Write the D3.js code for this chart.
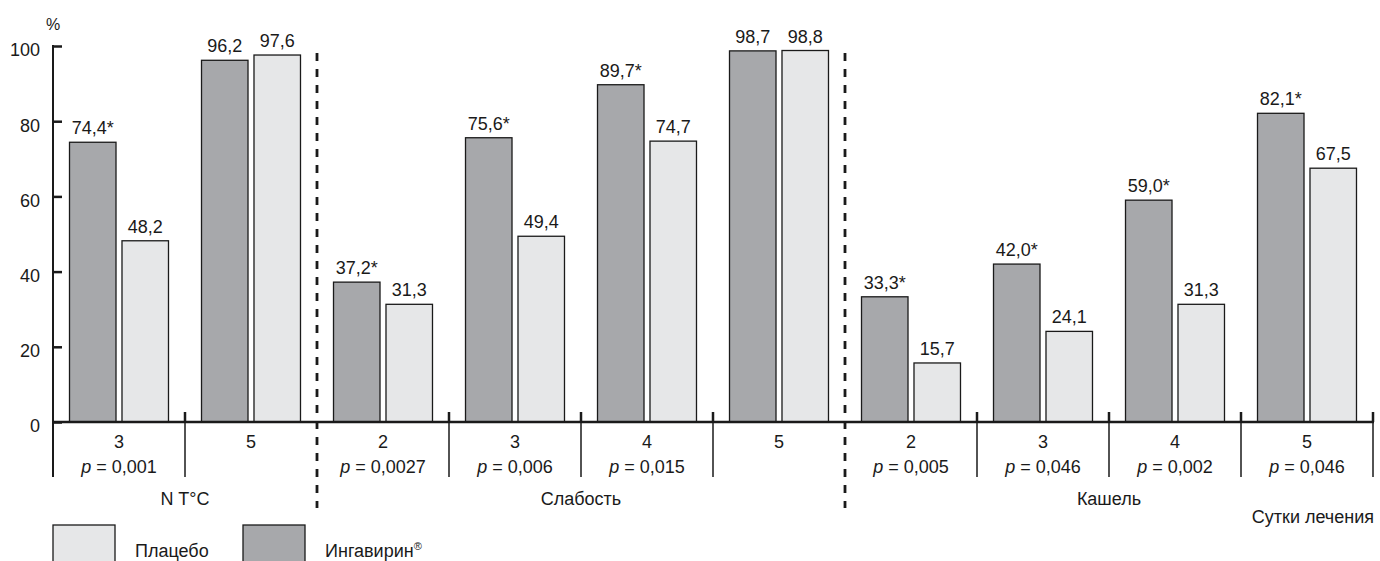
<!DOCTYPE html>
<html><head><meta charset="utf-8">
<script src="https://cdn.jsdelivr.net/npm/d3@7"></script>
<style>body{margin:0;background:#fff}svg{display:block;font-family:"Liberation Sans",Arial,sans-serif}</style>
</head><body><svg id="c" width="1380" height="561"></svg>
<script>
const days = ["3","5","2","3","4","5","2","3","4","5"];
const pvals = ["0,001","","0,0027","0,006","0,015","","0,005","0,046","0,002","0,046"];
const ingavirin = [74.4,96.2,37.2,75.6,89.7,98.7,33.3,42.0,59.0,82.1];
const placebo = [48.2,97.6,31.3,49.4,74.7,98.8,15.7,24.1,31.3,67.5];
const ingLabels = ["74,4*","96,2","37,2*","75,6*","89,7*","98,7","33,3*","42,0*","59,0*","82,1*"];
const plaLabels = ["48,2","97,6","31,3","49,4","74,7","98,8","15,7","24,1","31,3","67,5"];
const symptoms = [{name:"N T°C",from:0,to:2},{name:"Слабость",from:2,to:6},{name:"Кашель",from:6,to:10}];
const yTicks = [0,20,40,60,80,100];
const seriesNames = ["Плацебо","Ингавирин®"];

const FS = 18;
const svg = d3.select("#c");
const L = 53, R = 1373, BASE = 422, TOPY = 46;
const x0 = d3.scaleBand().domain(d3.range(days.length)).range([L,R]).padding(0);
const x1 = d3.scaleBand().domain(["ing","pla"]).range([0,x0.bandwidth()]).paddingInner(0.095).paddingOuter(0.305);
const y = d3.scaleLinear().domain([0,100]).range([BASE,TOPY]);
const dark = "#a7a8ab", light = "#e6e7e8", ink = "#1a1a1a";

// bars
const g = svg.append("g");
const rows = days.map((d,i)=>({i, vals:[{k:"ing",v:ingavirin[i],l:ingLabels[i]},{k:"pla",v:placebo[i],l:plaLabels[i]}]}));
const grp = g.selectAll("g.grp").data(rows).join("g").attr("transform",d=>`translate(${x0(d.i)},0)`);
grp.selectAll("rect").data(d=>d.vals).join("rect")
  .attr("x",d=>x1(d.k)+0.5).attr("y",d=>y(d.v)).attr("width",x1.bandwidth()-1).attr("height",d=>BASE-y(d.v))
  .attr("fill",d=>d.k==="ing"?dark:light).attr("stroke",ink).attr("stroke-width",1.3);
grp.selectAll("text").data(d=>d.vals).join("text")
  .attr("x",d=>x1(d.k)+x1.bandwidth()/2).attr("y",d=>y(d.v)-8)
  .attr("text-anchor","middle").attr("font-size",FS).attr("fill",ink).text(d=>d.l);

// y axis
const yAxis = d3.axisLeft(y).tickValues(yTicks).tickSize(-9).tickPadding(13);
const ya = svg.append("g").attr("transform",`translate(${L},0)`).call(yAxis);
ya.select(".domain").remove();
ya.selectAll("line").attr("stroke",ink).attr("stroke-width",2.5);
ya.selectAll("text").attr("font-size",FS).attr("fill",ink).attr("font-family","Liberation Sans, Arial, sans-serif").attr("dy","0.55em");
svg.append("line").attr("x1",L).attr("x2",L).attr("y1",TOPY-1).attr("y2",477).attr("stroke",ink).attr("stroke-width",2);
svg.append("text").attr("x",L).attr("y",30).attr("text-anchor","middle").attr("font-size",16).attr("fill",ink).text("%");

// x baseline
svg.append("line").attr("x1",L).attr("x2",R+1).attr("y1",BASE).attr("y2",BASE).attr("stroke",ink).attr("stroke-width",2.5);

// boundaries
const bounds = d3.range(1,days.length+1).map(i=> i<days.length ? x0(i) : R);
const dashedIdx = symptoms.slice(0,-1).map(s=>s.to);
bounds.forEach((bx,k)=>{
  const idx = k+1;
  if (dashedIdx.includes(idx)) {
    svg.append("line").attr("x1",bx).attr("x2",bx).attr("y1",53).attr("y2",508)
      .attr("stroke",ink).attr("stroke-width",2.8).attr("stroke-dasharray","8,8");
  } else {
    svg.append("line").attr("x1",bx).attr("x2",bx).attr("y1",412).attr("y2",477).attr("stroke",ink).attr("stroke-width",1.5);
    svg.append("line").attr("x1",bx).attr("x2",bx).attr("y1",412).attr("y2",BASE).attr("stroke",ink).attr("stroke-width",2.5);
  }
});

// category labels
const cl = svg.append("g");
days.forEach((d,i)=>{
  const cx = x0(i)+x0.bandwidth()/2;
  cl.append("text").attr("x",cx).attr("y",448).attr("text-anchor","middle").attr("font-size",FS).attr("fill",ink).text(d);
  if (pvals[i]) {
    const t = cl.append("text").attr("x",cx).attr("y",473).attr("text-anchor","middle").attr("font-size",FS).attr("fill",ink);
    t.append("tspan").attr("font-style","italic").text("p");
    t.append("tspan").text(" = "+pvals[i]);
  }
});
symptoms.forEach(s=>{
  const a = x0(s.from), b = s.to<days.length ? x0(s.to) : R;
  svg.append("text").attr("x",(a+b)/2).attr("y",505).attr("text-anchor","middle").attr("font-size",FS).attr("fill",ink).text(s.name);
});
svg.append("text").attr("x",R+1).attr("y",523).attr("text-anchor","end").attr("font-size",FS).attr("fill",ink).text("Сутки лечения");

// legend
const legend = [{name:seriesNames[0],c:light,x:53},{name:seriesNames[1],c:dark,x:243}];
legend.forEach(l=>{
  svg.append("rect").attr("x",l.x).attr("y",525).attr("width",62).attr("height",50).attr("fill",l.c).attr("stroke",ink).attr("stroke-width",1.3);
  const t = svg.append("text").attr("x",l.x+82).attr("y",557).attr("font-size",FS).attr("fill",ink);
  if (l.name.endsWith("®")) {
    t.append("tspan").text(l.name.slice(0,-1));
    t.append("tspan").attr("font-size",11).attr("dy",-7).text("®");
  } else t.text(l.name);
});
</script></body></html>
